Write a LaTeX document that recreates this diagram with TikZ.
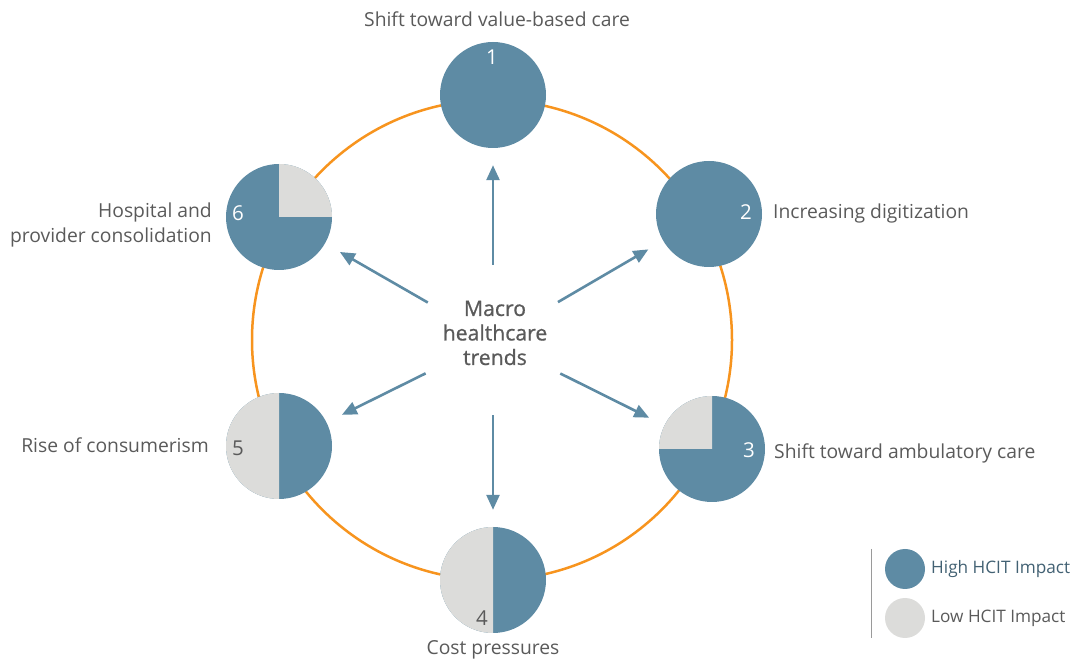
\documentclass[tikz,border=0pt]{standalone}
\usepackage{fontspec}
\setmainfont{Open Sans}
\usetikzlibrary{arrows.meta}
\definecolor{hiblue}{HTML}{5E8BA4}
\definecolor{logray}{HTML}{DCDCDA}
\definecolor{ring}{HTML}{F7941E}
\definecolor{txt}{HTML}{5A5A5A}
\definecolor{legline}{HTML}{9A9A9A}
\begin{document}
\begin{tikzpicture}[x=1pt,y=1pt,
  trend/.style={circle,fill=hiblue,minimum size=106pt,inner sep=0pt},
  num/.style={font=\fontsize{20.5}{24}\selectfont,text=white,inner sep=0pt},
  numdark/.style={num,text=txt},
  lbl/.style={font=\fontsize{19.3}{25}\selectfont,text=txt,inner sep=0pt},
  spoke/.style={draw=hiblue,line width=2.6pt,-{Triangle[length=15pt,width=13pt]},shorten >=17pt},
  legdot/.style={circle,minimum size=40pt,inner sep=0pt},
  legtxt/.style={font=\fontsize{17.2}{20}\selectfont,inner sep=0pt,anchor=west}]
\useasboundingbox (0,0) rectangle (1077,659);

% ring linking the six trends
\draw[ring,line width=2.5pt] (492,319) circle[radius=240pt];

% trend circles
\node[trend] (c1) at (493,564) {};
\node[trend] (c2) at (709,445) {};
\node[trend] (c3) at (712,210) {};
\node[trend] (c4) at (493,79) {};
\node[trend] (c5) at (279,213) {};
\node[trend] (c6) at (279,442) {};

% low-impact shares
\fill[logray] (c3.center) -- ++(0,53pt) arc[start angle=90,end angle=180,radius=53pt] -- cycle;
\fill[logray] (c6.center) -- ++(53pt,0) arc[start angle=0,end angle=90,radius=53pt] -- cycle;
\fill[logray] (c4.center) -- ++(0,53pt) arc[start angle=90,end angle=270,radius=53pt] -- cycle;
\fill[logray] (c5.center) -- ++(0,53pt) arc[start angle=90,end angle=270,radius=53pt] -- cycle;

% numbers
\node[num] (n1) at (492,602) {1};
\node[num] (n2) at (746,447) {2};
\node[num] (n3) at (749,209) {3};
\node[numdark] (n4) at (482,41) {4};
\node[numdark] (n5) at (238,211) {5};
\node[num] (n6) at (238,446) {6};

% labels
\node[lbl,anchor=base] (l1) at (497,632) {Shift toward value-based care};
\node[lbl,anchor=base west] (l2) at (773,440) {Increasing digitization};
\node[lbl,anchor=base west] (l3) at (774,200) {Shift toward ambulatory care};
\node[lbl,anchor=base] (l4) at (493,4) {Cost pressures};
\node[lbl,anchor=base east] (l5) at (209,206) {Rise of consumerism};
\node[lbl,anchor=north east,align=right] (l6) at (212,456) {Hospital and\\provider consolidation};

% hub and spokes
\node[circle,minimum size=150pt,inner sep=0pt] (hub) at (493,319) {};
\node[font=\fontsize{21.2}{24.5}\selectfont\addfontfeatures{FakeBold=0.8},text=txt,align=center,inner sep=0pt] (title) at (495,326) {Macro\\healthcare\\trends};
\foreach \t in {c1,c2,c3,c4,c5,c6}
  \draw[spoke] (hub) -- (\t);

% legend
\draw[legline,line width=1pt] (871,110) coordinate (lgtop) -- (871,21) coordinate (lgbot);
\node[legdot,fill=hiblue] (dhi) at (905,90) {};
\node[legdot,fill=logray] (dlo) at (905,41) {};
\node[legtxt,text=hiblue!70!black] (thi) at (931,90) {High HCIT Impact};
\node[legtxt,text=txt] (tlo) at (931,41) {Low HCIT Impact};
\end{tikzpicture}
\end{document}
